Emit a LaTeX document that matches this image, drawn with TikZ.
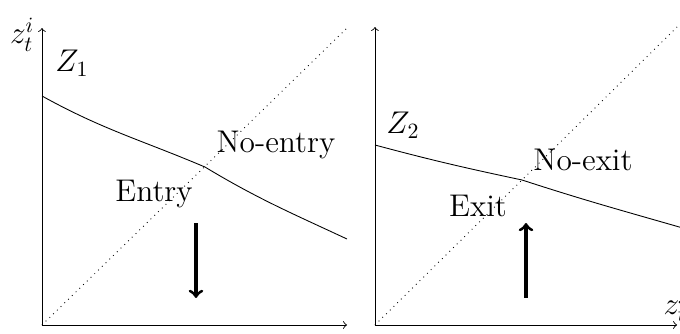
\documentclass[tikz,border=0pt]{standalone}
\usepackage{amsmath}
\usetikzlibrary{calc}

\begin{document}
\begin{tikzpicture}[
  axis/.style={->},
  diag/.style={dotted},
  move/.style={->, line width=1.4pt},
  lab/.style={font=\Large},
]
  \useasboundingbox (0,0) rectangle (10.968,5.371);

  % 左图坐标
  \coordinate (O1) at (0.677,0.129);
  \coordinate (X1) at (5.597,0.129);
  \coordinate (Y1) at (0.677,4.919);
  \coordinate (D1) at (5.597,4.919);
  \coordinate (A1) at (0.677,3.823);
  \coordinate (K1) at (3.306,2.677);
  \coordinate (B1) at (5.597,1.516);
  \coordinate (P1) at (3.161,1.774);
  \coordinate (Q1) at (3.161,0.565);

  % 右图坐标
  \coordinate (O2) at (6.048,0.129);
  \coordinate (X2) at (10.92,0.129);
  \coordinate (Y2) at (6.048,4.935);
  \coordinate (D2) at (10.92,4.935);
  \coordinate (A2) at (6.048,3.032);
  \coordinate (K2) at (8.419,2.468);
  \coordinate (B2) at (10.99,1.70);
  \coordinate (P2) at (8.484,0.565);
  \coordinate (Q2) at (8.484,1.774);

  % 坐标轴
  \draw[axis] (O1) -- (X1);
  \draw[axis] (O1) -- (Y1);
  \draw[axis] (O2) -- (X2);
  \draw[axis] (O2) -- (Y2);
  \node[lab, left, yshift=-3pt] (zi) at (Y1) {$z_t^i$};
  \node[lab, above, yshift=-2pt] (zj) at (X2) {$z_t^j$};

  % 对角线
  \draw[diag] (O1) -- (D1);
  \draw[diag] (O2) -- (D2);

  % 边界曲线
  \draw (A1) to[out=-29,in=157] (K1) to[out=-31,in=155] (B1);
  \draw (A2) to[out=-15,in=168] (K2) to[out=-18,in=164] (B2);

  % 方向箭头
  \draw[move] (P1) -- (Q1);
  \draw[move] (P2) -- (Q2);

  % 标签
  \node[lab] (z1) at (1.161,4.355) {$Z_1$};
  \node[lab] (ne) at (4.452,3.032) {No-entry};
  \node[lab] (en) at (2.484,2.242) {Entry};
  \node[lab] (z2) at (6.5,3.355) {$Z_2$};
  \node[lab] (nx) at (9.403,2.790) {No-exit};
  \node[lab] (ex) at (7.710,2.048) {Exit};
\end{tikzpicture}
\end{document}
